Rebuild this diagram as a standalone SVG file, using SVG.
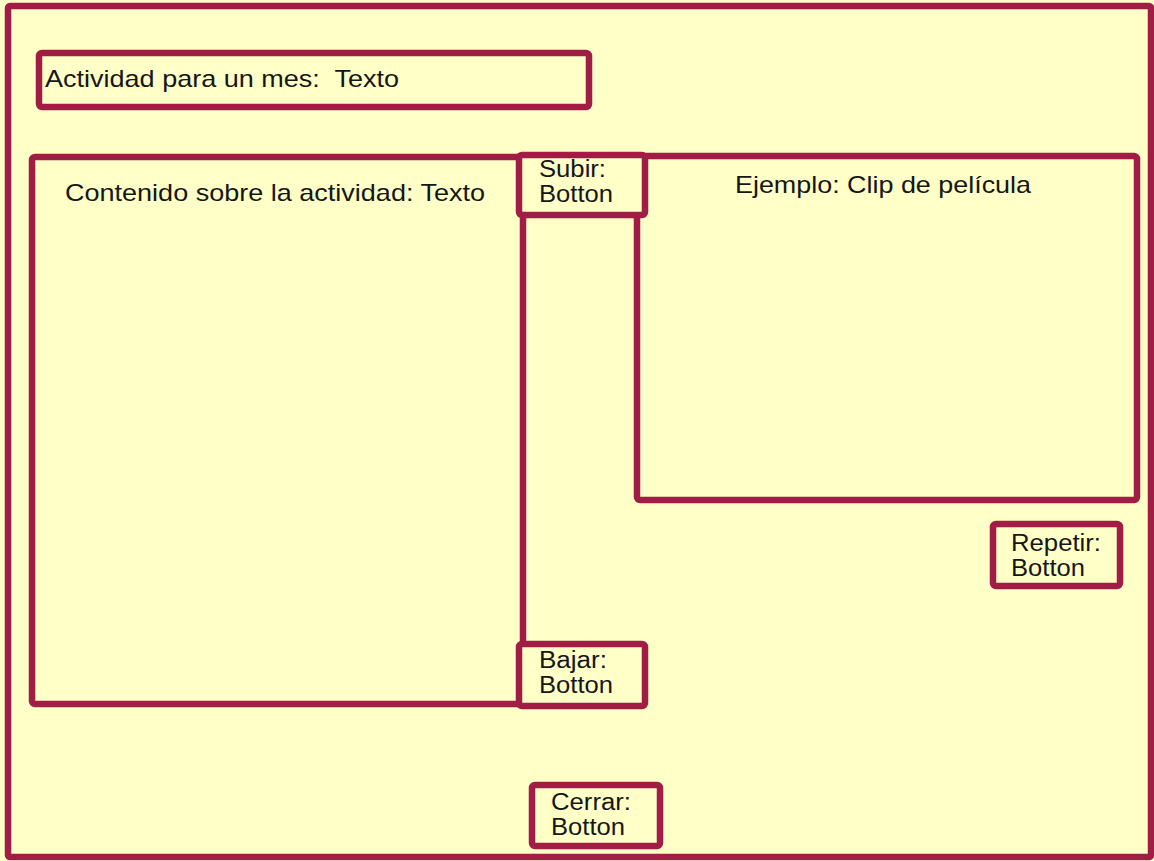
<svg xmlns="http://www.w3.org/2000/svg" width="1154" height="861" viewBox="0 0 1154 861">
  <style>
    .frame { fill: #ffffc8; stroke: #a11d45; stroke-width: 6.5; stroke-linejoin: round; }
    .box { fill: #ffffc8; stroke: #a11d45; stroke-width: 6.5; stroke-linejoin: round; }
    .label { font-family: "Liberation Sans", Arial, sans-serif; font-size: 24px; fill: #161616; white-space: pre; }
    .btn { font-family: "Liberation Sans", Arial, sans-serif; font-size: 23px; fill: #161616; }
  </style>

  <rect x="0" y="0" width="1154" height="861" fill="#ffffc8"/>

  <!-- page frame -->
  <g id="page">
    <rect class="frame" x="8" y="6" width="1143" height="851" rx="2"/>
  </g>

  <!-- month activity title field -->
  <g id="title">
    <rect class="box" x="39" y="53" width="550" height="54" rx="3"/>
    <text class="label" x="45" y="87" textLength="354" lengthAdjust="spacingAndGlyphs">Actividad para un mes:  Texto</text>
  </g>

  <!-- activity content text area -->
  <g id="content">
    <rect class="box" x="32" y="157" width="491" height="547" rx="3"/>
    <text class="label" x="65" y="201" textLength="420" lengthAdjust="spacingAndGlyphs">Contenido sobre la actividad: Texto</text>
  </g>

  <!-- movie clip area -->
  <g id="clip">
    <rect class="box" x="637" y="156" width="500" height="344" rx="3"/>
    <text class="label" x="735" y="193" textLength="296" lengthAdjust="spacingAndGlyphs">Ejemplo: Clip de película</text>
  </g>

  <!-- scroll up button -->
  <g id="btn-subir">
    <rect class="box" x="519" y="155" width="126" height="60" rx="3"/>
    <text class="btn" x="539" y="177" textLength="67" lengthAdjust="spacingAndGlyphs">Subir:</text>
    <text class="btn" x="539" y="202" textLength="74" lengthAdjust="spacingAndGlyphs">Botton</text>
  </g>

  <!-- scroll down button -->
  <g id="btn-bajar">
    <rect class="box" x="519" y="644" width="126" height="62" rx="3"/>
    <text class="btn" x="539" y="668" textLength="68" lengthAdjust="spacingAndGlyphs">Bajar:</text>
    <text class="btn" x="539" y="693" textLength="74" lengthAdjust="spacingAndGlyphs">Botton</text>
  </g>

  <!-- replay button -->
  <g id="btn-repetir">
    <rect class="box" x="993" y="524" width="127" height="62" rx="3"/>
    <text class="btn" x="1011" y="551" textLength="90" lengthAdjust="spacingAndGlyphs">Repetir:</text>
    <text class="btn" x="1011" y="576" textLength="74" lengthAdjust="spacingAndGlyphs">Botton</text>
  </g>

  <!-- close button -->
  <g id="btn-cerrar">
    <rect class="box" x="532" y="785" width="128" height="61" rx="3"/>
    <text class="btn" x="551" y="810" textLength="80" lengthAdjust="spacingAndGlyphs">Cerrar:</text>
    <text class="btn" x="551" y="835" textLength="74" lengthAdjust="spacingAndGlyphs">Botton</text>
  </g>

  <g id="connectors"/>
</svg>
